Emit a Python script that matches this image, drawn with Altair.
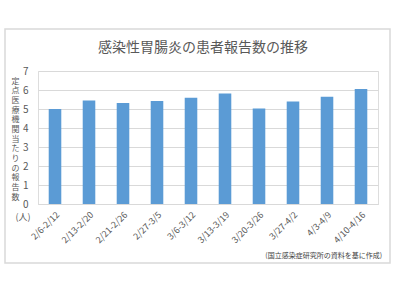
import altair as alt
import pandas as pd

weeks = ["2/6-2/12", "2/13-2/20", "2/21-2/26", "2/27-3/5", "3/6-3/12",
         "3/13-3/19", "3/20-3/26", "3/27-4/2", "4/3-4/9", "4/10-4/16"]
values = [5.0, 5.45, 5.31, 5.42, 5.59, 5.82, 5.02, 5.40, 5.65, 6.05]
title_text = "感染性胃腸炎の患者報告数の推移"
y_title = "定点医療機関当たりの報告数"
unit_text = "(人)"
source_text = "(国立感染症研究所の資料を基に作成)"

FONT = "Noto Sans CJK JP"
TXT = "#595959"

df = pd.DataFrame({"week": weeks, "value": values})

W, H = 340, 133

bars = alt.Chart(df).mark_bar(color="#5b9bd5").encode(
    x=alt.X("week:N", sort=weeks, title=None,
            scale=alt.Scale(paddingInner=0.63, paddingOuter=0.315),
            axis=alt.Axis(labelAngle=-45, labelFontSize=9, labelColor=TXT,
                          labelFont=FONT, ticks=False, domainColor="#d9d9d9",
                          labelPadding=6, grid=False)),
    y=alt.Y("value:Q", title=list(y_title),
            scale=alt.Scale(domain=[0, 7], nice=False),
            axis=alt.Axis(values=list(range(8)), tickCount=8, labelFontSize=10,
                          labelColor=TXT, labelFont=FONT, ticks=False,
                          domain=False, gridColor="#d9d9d9", labelPadding=10,
                          titleAngle=0, titleFontSize=8, titleFont=FONT,
                          titleColor=TXT, titleFontWeight="normal",
                          titleLineHeight=9.7, titleX=-23, titleY=6,
                          titleAlign="center", titleBaseline="top")),
)

border = alt.Chart(pd.DataFrame({"a": [0]})).mark_rect(
    fill=None, stroke="#d9d9d9", strokeWidth=1.5
).encode(x=alt.value(-33), x2=alt.value(352), y=alt.value(-42), y2=alt.value(192))

title = alt.Chart(pd.DataFrame({"t": [title_text]})).mark_text(
    fontSize=14, font=FONT, color=TXT, align="center", baseline="alphabetic"
).encode(text="t:N", x=alt.value(165), y=alt.value(-19))

unit = alt.Chart(pd.DataFrame({"t": [unit_text]})).mark_text(
    fontSize=9, font=FONT, color=TXT, align="center", baseline="middle"
).encode(text="t:N", x=alt.value(-15), y=alt.value(146))

source = alt.Chart(pd.DataFrame({"t": [source_text]})).mark_text(
    fontSize=7, font=FONT, color="#404040", align="right", baseline="middle"
).encode(text="t:N", x=alt.value(344), y=alt.value(185))

chart = alt.layer(border, bars, title, unit, source).properties(
    width=W, height=H,
    autosize=alt.AutoSizeParams(type="none"),
    padding={"left": 38, "top": 71, "right": 19, "bottom": 93},
).configure_view(stroke=None).configure(background="white")

chart.save("out.html", embed_options={"renderer": "svg", "actions": False})
